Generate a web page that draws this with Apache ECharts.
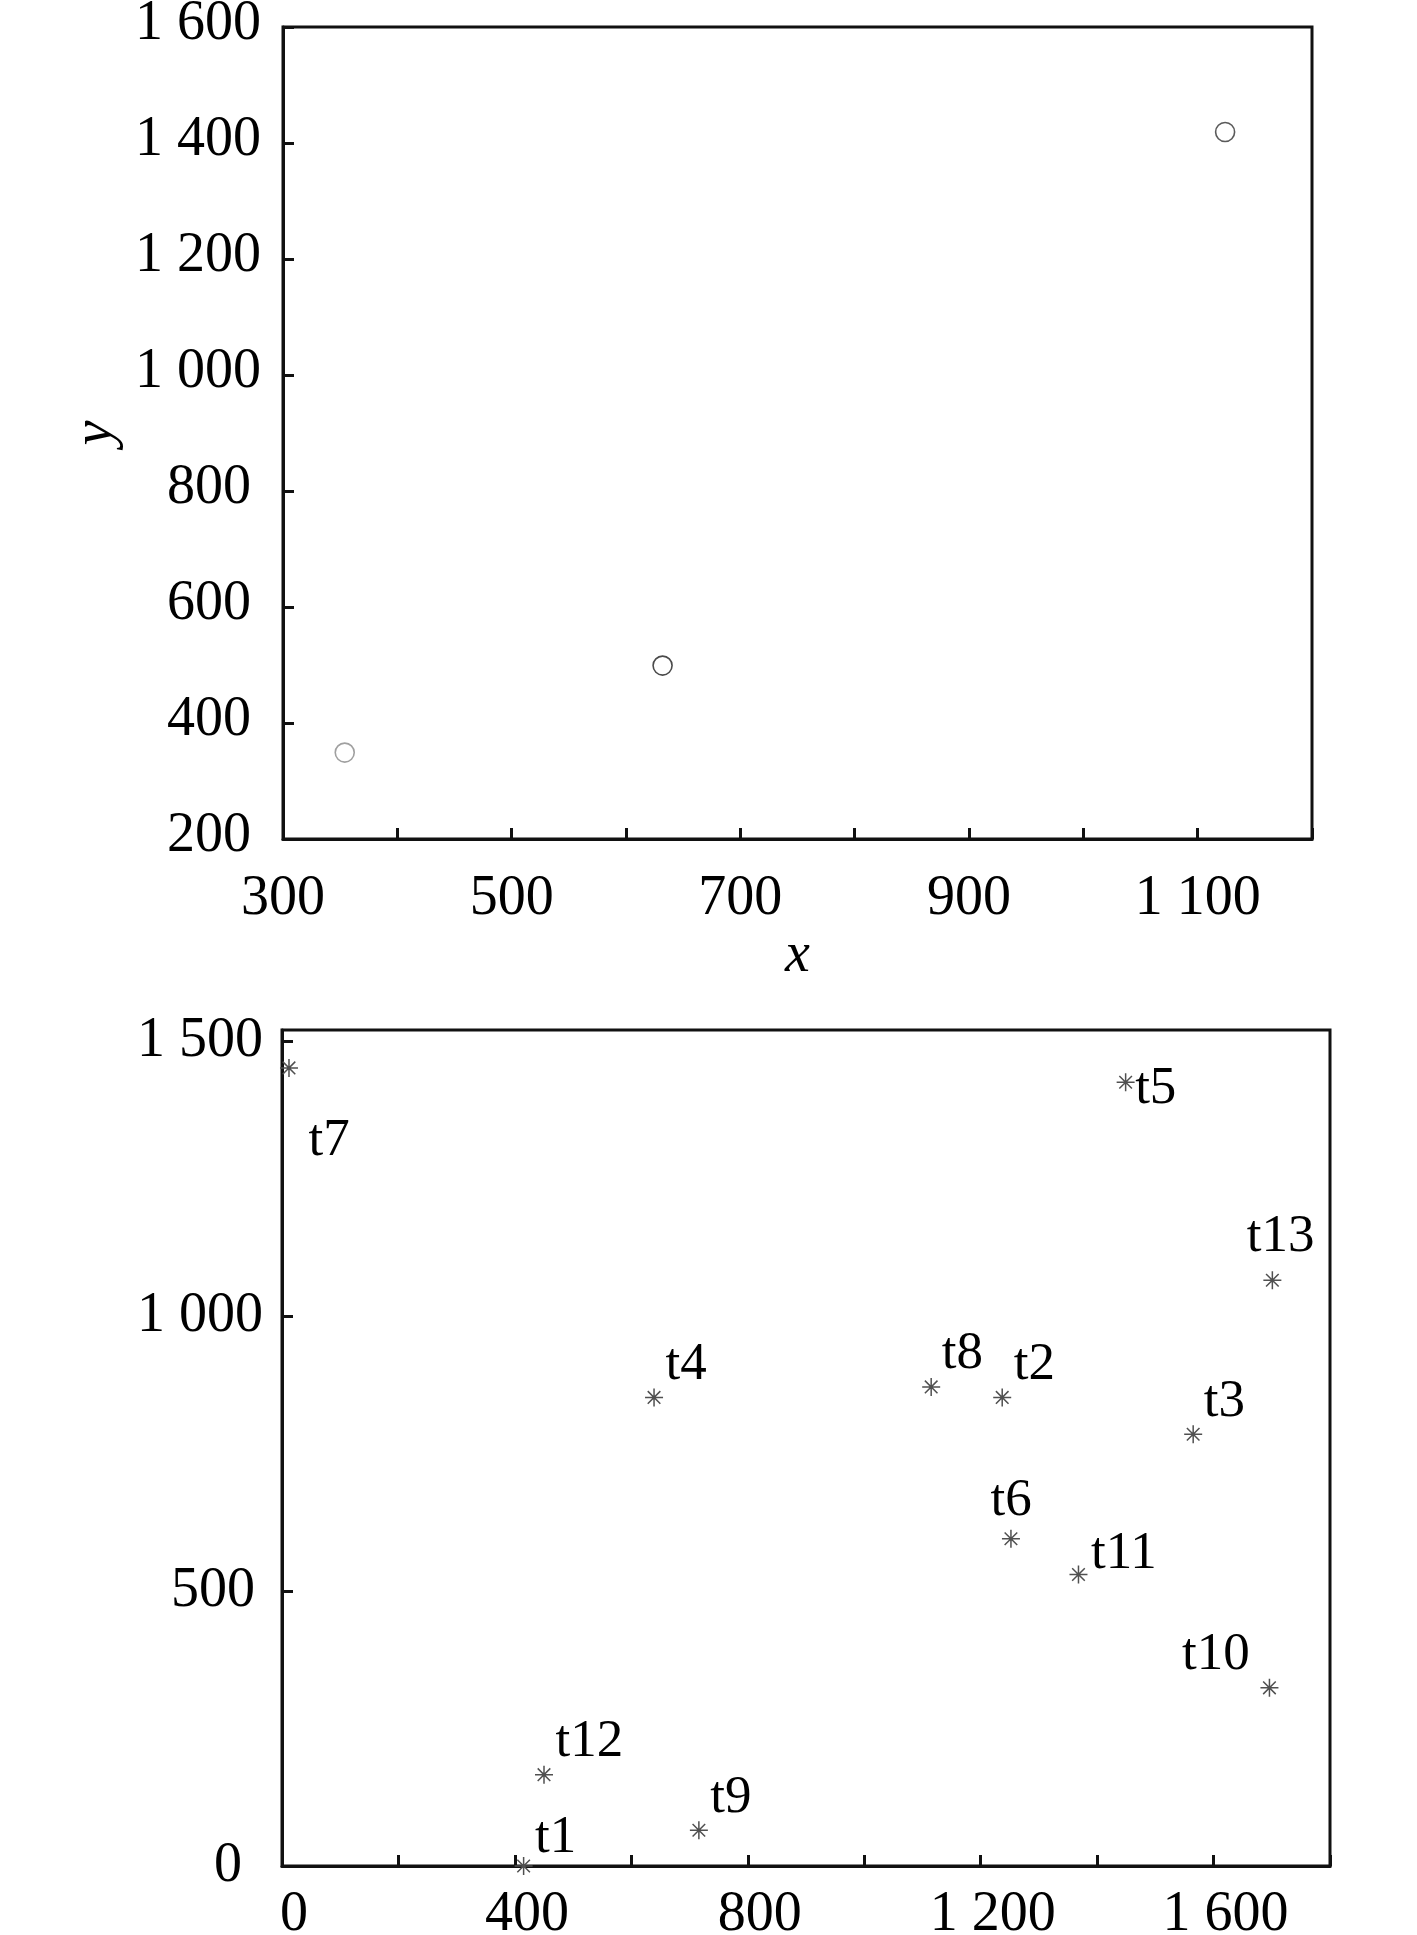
<!DOCTYPE html>
<html>
<head>
<meta charset="utf-8">
<script src="https://cdn.jsdelivr.net/npm/echarts@6/dist/echarts.min.js"></script>
<style>
  html, body { margin: 0; padding: 0; background: #fff; }
  #chart { width: 1417px; height: 1935px; }
</style>
</head>
<body>
<div id="chart"></div>
<script>
// upper plot: three points
var topX = [354, 632, 1124]
var topY = [349, 499, 1419]
var topColors = ['#a0a0a0', '#4a4a4a', '#5a5a5a']

// lower plot: labelled points t1..t13
var pointNames = ['t1', 't2', 't3', 't4', 't5', 't6', 't7', 't8', 't9', 't10', 't11', 't12', 't13']
var pointX = [415, 1237, 1565, 639, 1449, 1252, 12, 1115, 716, 1696, 1368, 450, 1701]
var pointY = [0, 852, 785, 852, 1425, 595, 1451, 871, 65, 324, 530, 166, 1065]

// where each label sits next to its star (pixels)
var labelOffset = {
  t1: [0, -28], t2: [0, -32], t3: [-1, -32], t4: [0, -32], t5: [-2, 7],
  t6: [-32, -38], t7: [8, 73], t8: [-1, -33], t9: [0, -32], t10: [-99, -33],
  t11: [1, -20], t12: [0, -33], t13: [-37, -43]
}

var FONT = 'Liberation Serif'

function fmt(v) {
  if (v >= 1000) {
    return Math.floor(v / 1000) + ' ' + String(v % 1000).padStart(3, '0')
  }
  return String(v)
}

var starPath = 'path://M10,0 L10,20 M0,10 L20,10 M3,3 L17,17 M3,17 L17,3'

var topData = []
for (var i = 0; i < topX.length; i++) {
  topData.push({
    value: [topX[i], topY[i]],
    itemStyle: { color: 'rgba(0,0,0,0)', borderColor: topColors[i], borderWidth: 1.6, opacity: 1 }
  })
}

var bottomData = []
for (var j = 0; j < pointNames.length; j++) {
  bottomData.push({
    name: pointNames[j],
    value: [pointX[j], pointY[j]],
    label: { offset: labelOffset[pointNames[j]] }
  })
}

var axisLineStyle = { color: '#111', width: 3 }

var chart = echarts.init(document.getElementById('chart'))
chart.setOption({
  backgroundColor: '#fff',
  animation: false,
  grid: [
    { left: 283, right: 105, top: 27, height: 812, show: true, borderColor: '#111', borderWidth: 3, outerBoundsMode: 'none' },
    { left: 282, right: 87, top: 1030, height: 836, show: true, borderColor: '#111', borderWidth: 3, outerBoundsMode: 'none' }
  ],
  xAxis: [{
    gridIndex: 0,
    type: 'value',
    min: 300,
    max: 1200,
    interval: 100,
    name: 'x',
    nameLocation: 'middle',
    nameGap: 88,
    nameTextStyle: { fontFamily: FONT, fontStyle: 'italic', fontSize: 56, color: '#000' },
    splitLine: { show: false },
    axisLine: { lineStyle: axisLineStyle },
    axisTick: { inside: true, length: 11, lineStyle: { color: '#111', width: 3 } },
    axisLabel: {
      margin: 32,
      fontFamily: FONT,
      fontSize: 56,
      color: '#000',
      formatter: function(v) {
        return ((v - 300) % 200 === 0 && v < 1200) ? fmt(v) : ''
      }
    }
  }, {
    gridIndex: 1,
    type: 'value',
    min: 0,
    max: 1800,
    interval: 200,
    splitLine: { show: false },
    axisLine: { lineStyle: axisLineStyle },
    axisTick: { inside: true, length: 11, lineStyle: { color: '#111', width: 3 } },
    axisLabel: {
      margin: 21,
      fontFamily: FONT,
      fontSize: 56,
      color: '#000',
      padding: [0, 0, 0, 24],
      formatter: function(v) {
        return (v % 400 === 0 && v < 1800) ? fmt(v) : ''
      }
    }
  }],
  yAxis: [{
    gridIndex: 0,
    type: 'value',
    min: 200,
    max: 1600,
    interval: 200,
    name: 'y',
    nameLocation: 'middle',
    nameGap: 150,
    nameTextStyle: { fontFamily: FONT, fontStyle: 'italic', fontSize: 56, color: '#000' },
    splitLine: { show: false },
    axisLine: { lineStyle: axisLineStyle },
    axisTick: { inside: true, length: 11, lineStyle: { color: '#111', width: 3 } },
    axisLabel: {
      margin: 22,
      fontFamily: FONT,
      fontSize: 56,
      color: '#000',
      formatter: function(v) {
        return v >= 1000 ? '{a|' + fmt(v) + '}' : '{b|' + fmt(v) + '}'
      },
      rich: {
        a: { fontFamily: FONT, fontSize: 56, color: '#000', padding: [0, 0, 6, 0] },
        b: { fontFamily: FONT, fontSize: 56, color: '#000', padding: [0, 10, 6, 0] }
      }
    }
  }, {
    gridIndex: 1,
    type: 'value',
    min: 0,
    max: 1520,
    interval: 500,
    splitLine: { show: false },
    axisLine: { lineStyle: axisLineStyle },
    axisTick: { inside: true, length: 11, lineStyle: { color: '#111', width: 3 } },
    axisLabel: {
      margin: 19,
      fontFamily: FONT,
      fontSize: 56,
      color: '#000',
      showMaxLabel: false,
      formatter: function(v) {
        if (v % 500 !== 0) return ''
        if (v >= 1000) return '{a|' + fmt(v) + '}'
        if (v > 0) return '{b|' + fmt(v) + '}'
        return '{c|' + fmt(v) + '}'
      },
      rich: {
        a: { fontFamily: FONT, fontSize: 56, color: '#000' },
        b: { fontFamily: FONT, fontSize: 56, color: '#000', padding: [0, 8, 0, 0] },
        c: { fontFamily: FONT, fontSize: 56, color: '#000', padding: [0, 21, 0, 0] }
      }
    }
  }],
  series: [{
    type: 'scatter',
    xAxisIndex: 0,
    yAxisIndex: 0,
    symbol: 'circle',
    symbolSize: 19,
    data: topData
  }, {
    type: 'scatter',
    xAxisIndex: 1,
    yAxisIndex: 1,
    symbol: starPath,
    symbolSize: 18,
    itemStyle: { color: 'none', borderColor: '#505050', borderWidth: 1.5, opacity: 1 },
    label: {
      show: true,
      position: 'right',
      distance: 0,
      formatter: '{b}',
      fontFamily: FONT,
      fontSize: 53,
      color: '#000',
      textBorderWidth: 0
    },
    data: bottomData
  }]
})
</script>
</body>
</html>
